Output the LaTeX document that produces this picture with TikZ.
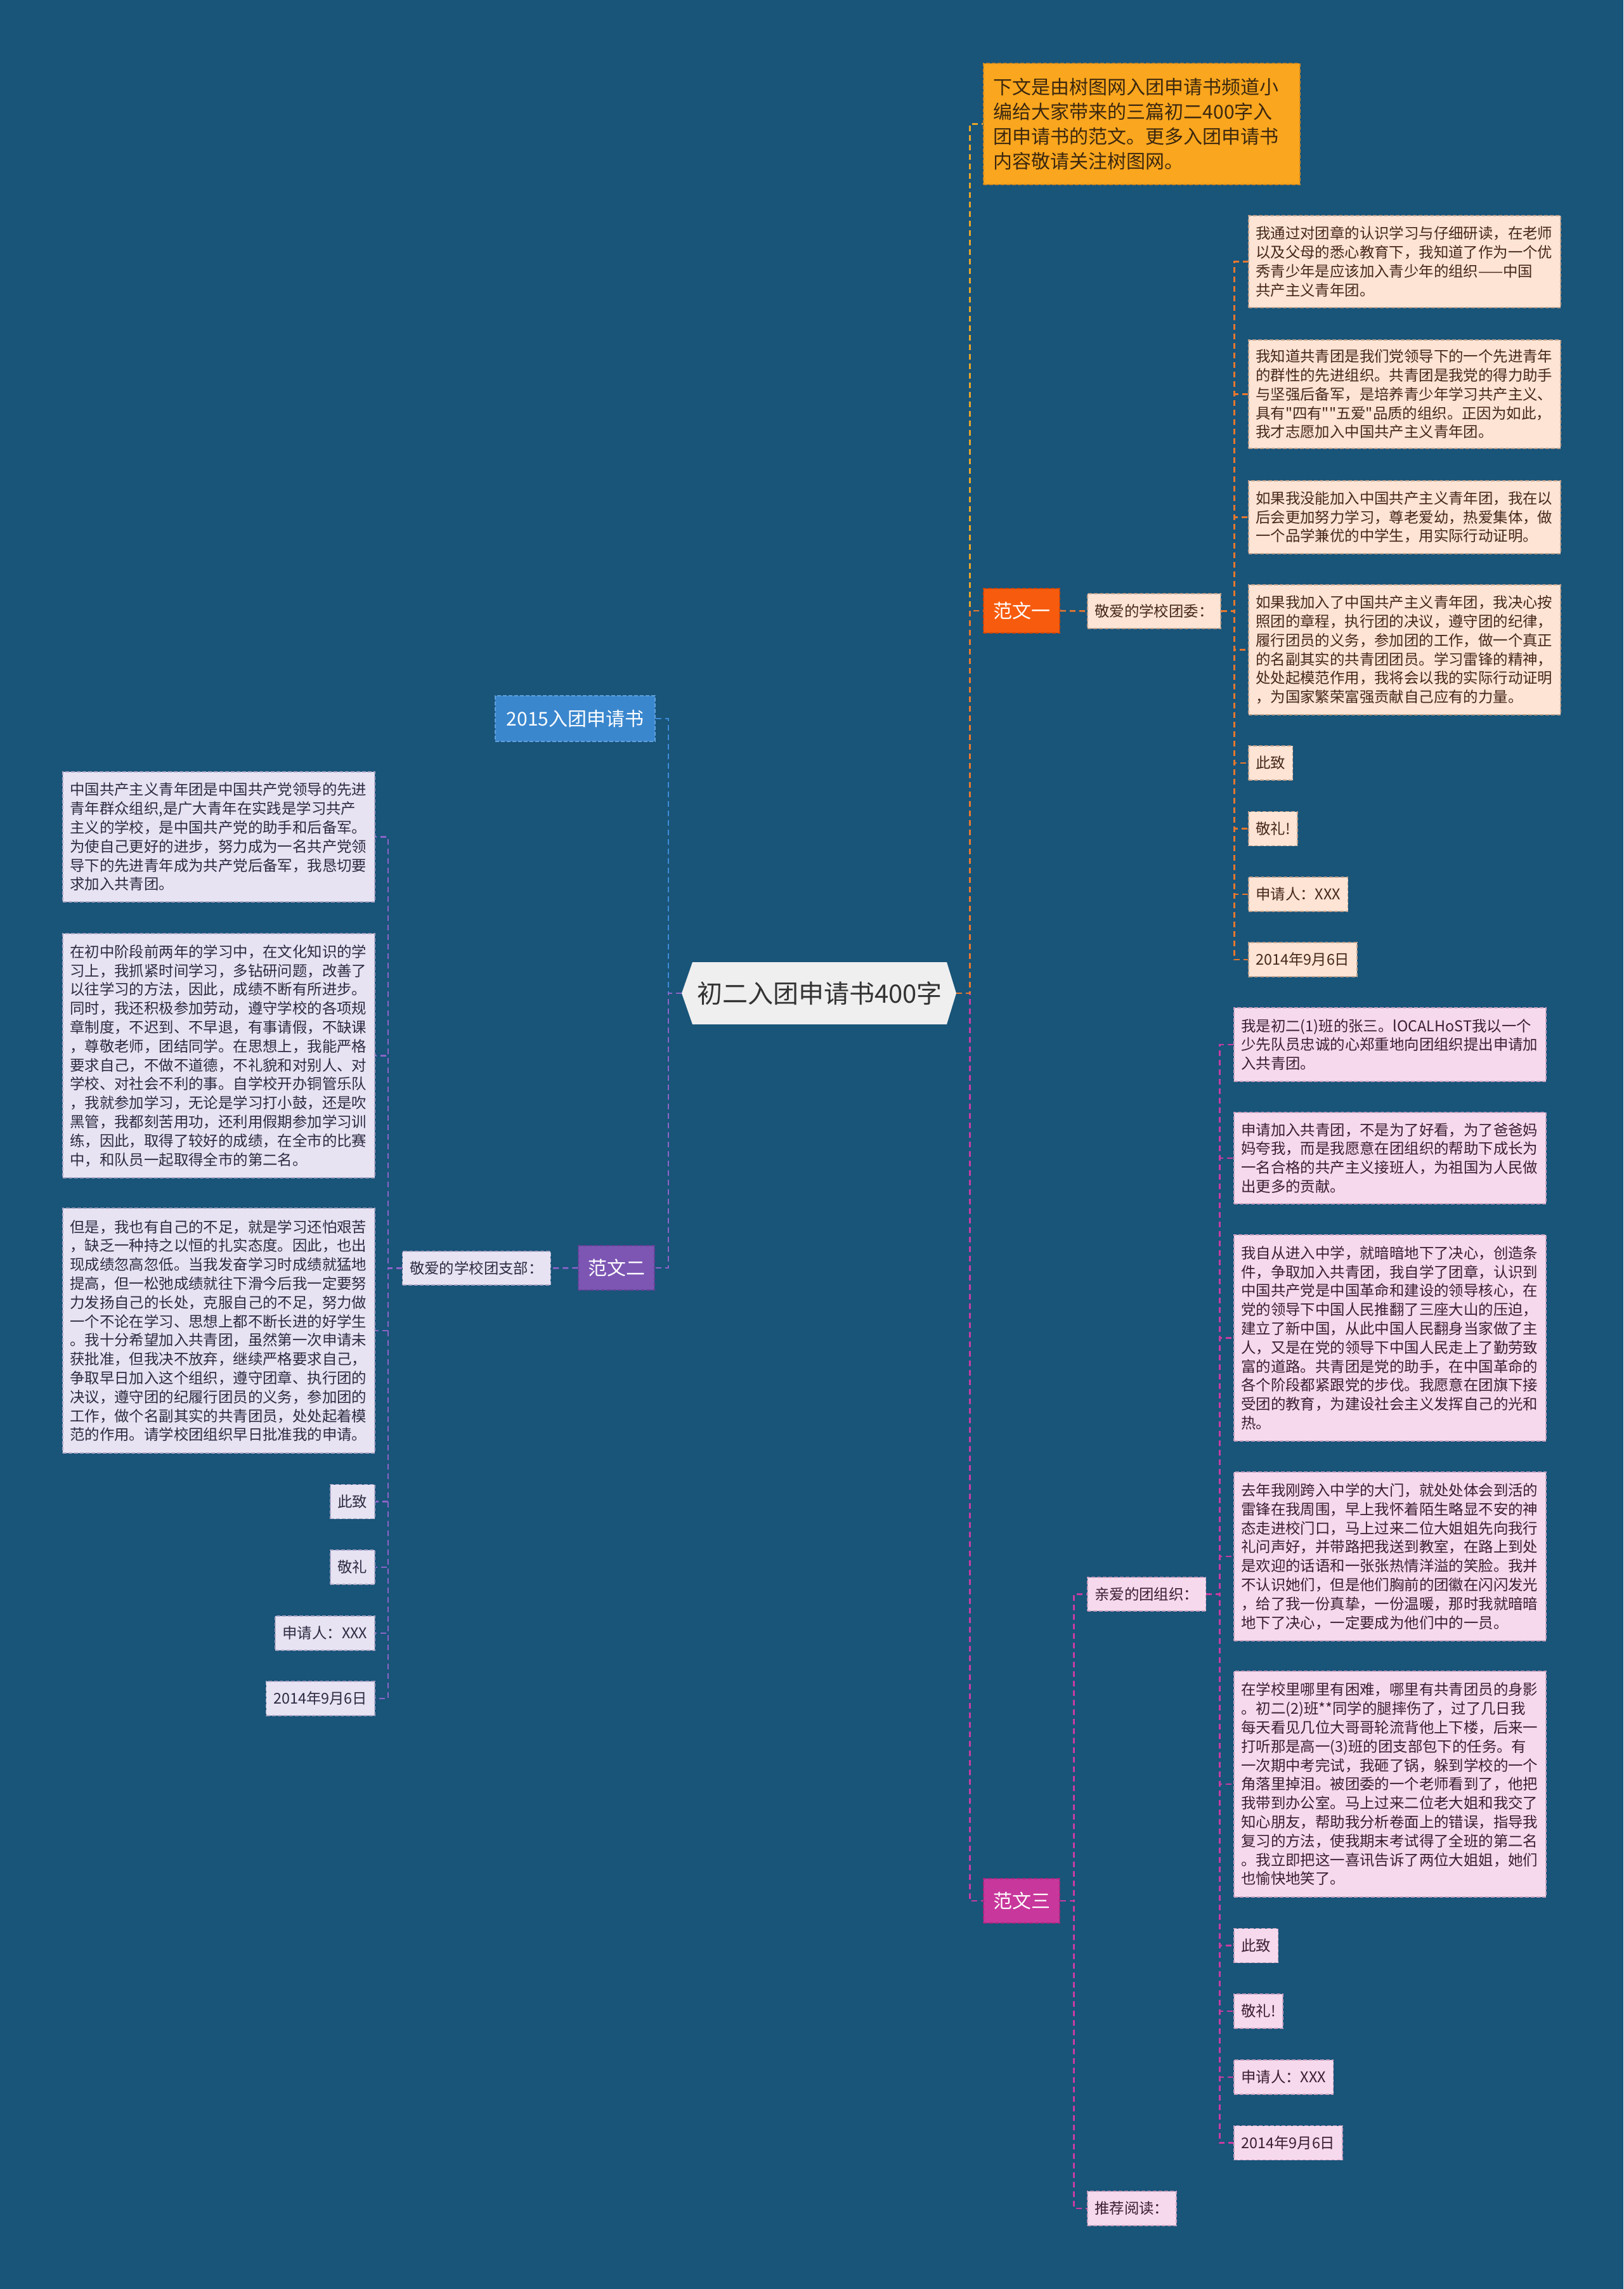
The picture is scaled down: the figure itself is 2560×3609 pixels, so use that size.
\documentclass[tikz,border=0pt]{standalone}
\usepackage{fontspec}
\newfontfamily\cjk{Noto Sans CJK SC}
\definecolor{bg}{RGB}{25,84,121}
\definecolor{rootF}{RGB}{239,239,239}
\definecolor{rootT}{RGB}{51,51,51}
\definecolor{introF}{RGB}{250,166,30}
\definecolor{introD}{RGB}{205,135,35}
\definecolor{introT}{RGB}{60,40,15}
\definecolor{fwoneF}{RGB}{247,92,14}
\definecolor{fwoneD}{RGB}{205,70,10}
\definecolor{fwtwoF}{RGB}{125,86,180}
\definecolor{fwtwoD}{RGB}{100,65,150}
\definecolor{fwthreeF}{RGB}{200,55,155}
\definecolor{fwthreeD}{RGB}{165,40,125}
\definecolor{yearF}{RGB}{58,135,206}
\definecolor{yearD}{RGB}{95,160,220}
\definecolor{peachF}{RGB}{253,228,212}
\definecolor{peachD}{RGB}{190,160,140}
\definecolor{peachT}{RGB}{70,40,25}
\definecolor{lavF}{RGB}{231,227,243}
\definecolor{lavD}{RGB}{170,165,195}
\definecolor{lavT}{RGB}{45,43,65}
\definecolor{pinkF}{RGB}{246,217,237}
\definecolor{pinkD}{RGB}{200,160,190}
\definecolor{pinkT}{RGB}{60,30,50}
\definecolor{cGold}{RGB}{230,165,40}
\definecolor{cOrange}{RGB}{232,120,45}
\definecolor{cBlue}{RGB}{60,140,215}
\definecolor{cPurp}{RGB}{140,100,200}
\definecolor{cMag}{RGB}{200,60,160}
\tikzset{
  every node/.style={font=\cjk},
  conn/.style={line width=2.6pt, dash pattern=on 9pt off 6pt},
  leaf/.style={draw, line width=1.5pt, dash pattern=on 6pt off 3pt, inner xsep=11.5pt, inner ysep=4pt, font=\cjk\fontsize{23.4pt}{29.8pt}\selectfont},
  para/.style={text width=469pt, align=left},
  peach/.style={leaf, fill=peachF, draw=peachD, text=peachT},
  lav/.style={leaf, fill=lavF, draw=lavD, text=lavT},
  pinkbox/.style={leaf, fill=pinkF, draw=pinkD, text=pinkT},
  tiny/.style={minimum height=54pt},
  branch/.style={draw, line width=1.5pt, dash pattern=on 6pt off 3pt, text=white, font=\cjk\fontsize{30pt}{36pt}\selectfont, inner sep=0pt, minimum height=70pt},
  introbox/.style={draw=introD, fill=introF, text=introT, line width=1.5pt, dash pattern=on 6pt off 3pt, text width=467pt, inner xsep=16pt, inner ysep=4pt, align=left, font=\cjk\fontsize{30pt}{39pt}\selectfont}
}
\begin{document}
\begin{tikzpicture}[x=1pt,y=-1pt]
\fill[bg] (0,0) rectangle (2560,3609);
\useasboundingbox (0,0) rectangle (2560,3609);

% root
\fill[rootF] (1092,1517) -- (1493,1517) -- (1508,1566) -- (1493,1615) -- (1092,1615) -- (1075,1566) -- cycle;
\node[minimum width=401pt, minimum height=98pt, inner sep=0pt, text=rootT, font=\cjk\fontsize{40pt}{48pt}\selectfont] (root) at (1292.5,1566) {初二入团申请书400字};

% intro
\node[introbox, anchor=west, minimum height=191pt] (intro) at (1550,195.5) {下文是由树图网入团申请书频道小\\编给大家带来的三篇初二400字入\\团申请书的范文。更多入团申请书\\内容敬请关注树图网。};

% branches
\node[branch, fill=fwoneF, draw=fwoneD, minimum width=120pt] (fw1) at (1611,963) {范文一};
\node[branch, fill=fwthreeF, draw=fwthreeD, minimum width=120pt] (fw3) at (1611,2997) {范文三};
\node[branch, fill=fwtwoF, draw=fwtwoD, minimum width=120pt] (fw2) at (972,1999) {范文二};
\node[branch, fill=yearF, draw=yearD, minimum width=252pt, minimum height=72pt] (y15) at (907,1133) {2015入团申请书};

% 范文一
\node[peach, anchor=west, minimum height=55pt] (jw) at (1714,963.5) {敬爱的学校团委：};
\node[peach, para, anchor=west, minimum height=145pt] (a1) at (1968,412.5) {我通过对团章的认识学习与仔细研读，在老师\\以及父母的悉心教育下，我知道了作为一个优\\秀青少年是应该加入青少年的组织——中国\\共产主义青年团。};
\node[peach, para, anchor=west, minimum height=171pt] (a2) at (1968,621.5) {我知道共青团是我们党领导下的一个先进青年\\的群性的先进组织。共青团是我党的得力助手\\与坚强后备军，是培养青少年学习共产主义、\\具有"四有""五爱"品质的组织。正因为如此，\\我才志愿加入中国共产主义青年团。};
\node[peach, para, anchor=west, minimum height=115pt] (a3) at (1968,815.5) {如果我没能加入中国共产主义青年团，我在以\\后会更加努力学习，尊老爱幼，热爱集体，做\\一个品学兼优的中学生，用实际行动证明。};
\node[peach, para, anchor=west, minimum height=205pt] (a4) at (1968,1024.5) {如果我加入了中国共产主义青年团，我决心按\\照团的章程，执行团的决议，遵守团的纪律，\\履行团员的义务，参加团的工作，做一个真正\\的名副其实的共青团团员。学习雷锋的精神，\\处处起模范作用，我将会以我的实际行动证明\\，为国家繁荣富强贡献自己应有的力量。};
\node[peach, tiny, anchor=west] (a5) at (1968,1203) {此致};
\node[peach, tiny, anchor=west] (a6) at (1968,1306.5) {敬礼!};
\node[peach, tiny, anchor=west] (a7) at (1968,1410) {申请人：XXX};
\node[peach, tiny, anchor=west] (a8) at (1968,1513) {2014年9月6日};

% 范文二
\node[lav, anchor=east, minimum height=53pt] (jz) at (869,1999.5) {敬爱的学校团支部：};
\node[lav, para, anchor=east, minimum height=205pt] (b1) at (591.5,1319.5) {中国共产主义青年团是中国共产党领导的先进\\青年群众组织,是广大青年在实践是学习共产\\主义的学校，是中国共产党的助手和后备军。\\为使自己更好的进步，努力成为一名共产党领\\导下的先进青年成为共产党后备军，我恳切要\\求加入共青团。};
\node[lav, para, anchor=east, minimum height=385pt] (b2) at (591.5,1664.5) {在初中阶段前两年的学习中，在文化知识的学\\习上，我抓紧时间学习，多钻研问题，改善了\\以往学习的方法，因此，成绩不断有所进步。\\同时，我还积极参加劳动，遵守学校的各项规\\章制度，不迟到、不早退，有事请假，不缺课\\，尊敬老师，团结同学。在思想上，我能严格\\要求自己，不做不道德，不礼貌和对别人、对\\学校、对社会不利的事。自学校开办铜管乐队\\，我就参加学习，无论是学习打小鼓，还是吹\\黑管，我都刻苦用功，还利用假期参加学习训\\练，因此，取得了较好的成绩，在全市的比赛\\中，和队员一起取得全市的第二名。};
\node[lav, para, anchor=east, minimum height=386pt] (b3) at (591.5,2098) {但是，我也有自己的不足，就是学习还怕艰苦\\，缺乏一种持之以恒的扎实态度。因此，也出\\现成绩忽高忽低。当我发奋学习时成绩就猛地\\提高，但一松弛成绩就往下滑今后我一定要努\\力发扬自己的长处，克服自己的不足，努力做\\一个不论在学习、思想上都不断长进的好学生\\。我十分希望加入共青团，虽然第一次申请未\\获批准，但我决不放弃，继续严格要求自己，\\争取早日加入这个组织，遵守团章、执行团的\\决议，遵守团的纪履行团员的义务，参加团的\\工作，做个名副其实的共青团员，处处起着模\\范的作用。请学校团组织早日批准我的申请。};
\node[lav, tiny, anchor=east] (b4) at (591.5,2367.5) {此致};
\node[lav, tiny, anchor=east] (b5) at (591.5,2471) {敬礼};
\node[lav, tiny, anchor=east] (b6) at (591.5,2575) {申请人：XXX};
\node[lav, tiny, anchor=east] (b7) at (591.5,2678) {2014年9月6日};

% 范文三
\node[pinkbox, anchor=west, minimum height=53pt] (qa) at (1714,2513.5) {亲爱的团组织：};
\node[pinkbox, tiny, anchor=west] (tj) at (1714,3482) {推荐阅读：};
\node[pinkbox, para, anchor=west, minimum height=116pt] (c1) at (1945,1647) {我是初二(1)班的张三。lOCALHoST我以一个\\少先队员忠诚的心郑重地向团组织提出申请加\\入共青团。};
\node[pinkbox, para, anchor=west, minimum height=144pt] (c2) at (1945,1826) {申请加入共青团，不是为了好看，为了爸爸妈\\妈夸我，而是我愿意在团组织的帮助下成长为\\一名合格的共产主义接班人，为祖国为人民做\\出更多的贡献。};
\node[pinkbox, para, anchor=west, minimum height=325pt] (c3) at (1945,2109.5) {我自从进入中学，就暗暗地下了决心，创造条\\件，争取加入共青团，我自学了团章，认识到\\中国共产党是中国革命和建设的领导核心，在\\党的领导下中国人民推翻了三座大山的压迫，\\建立了新中国，从此中国人民翻身当家做了主\\人，又是在党的领导下中国人民走上了勤劳致\\富的道路。共青团是党的助手，在中国革命的\\各个阶段都紧跟党的步伐。我愿意在团旗下接\\受团的教育，为建设社会主义发挥自己的光和\\热。};
\node[pinkbox, para, anchor=west, minimum height=266pt] (c4) at (1945,2454) {去年我刚跨入中学的大门，就处处体会到活的\\雷锋在我周围，早上我怀着陌生略显不安的神\\态走进校门口，马上过来二位大姐姐先向我行\\礼问声好，并带路把我送到教室，在路上到处\\是欢迎的话语和一张张热情洋溢的笑脸。我并\\不认识她们，但是他们胸前的团徽在闪闪发光\\，给了我一份真挚，一份温暖，那时我就暗暗\\地下了决心，一定要成为他们中的一员。};
\node[pinkbox, para, anchor=west, minimum height=356pt] (c5) at (1945,2813) {在学校里哪里有困难，哪里有共青团员的身影\\。初二(2)班**同学的腿摔伤了，过了几日我\\每天看见几位大哥哥轮流背他上下楼，后来一\\打听那是高一(3)班的团支部包下的任务。有\\一次期中考完试，我砸了锅，躲到学校的一个\\角落里掉泪。被团委的一个老师看到了，他把\\我带到办公室。马上过来二位老大姐和我交了\\知心朋友，帮助我分析卷面上的错误，指导我\\复习的方法，使我期末考试得了全班的第二名\\。我立即把这一喜讯告诉了两位大姐姐，她们\\也愉快地笑了。};
\node[pinkbox, tiny, anchor=west] (c6) at (1945,3067.5) {此致};
\node[pinkbox, tiny, anchor=west] (c7) at (1945,3171) {敬礼!};
\node[pinkbox, tiny, anchor=west] (c8) at (1945,3275) {申请人：XXX};
\node[pinkbox, tiny, anchor=west] (c9) at (1945,3378.5) {2014年9月6日};

% connectors from root
\draw[conn, cGold] ([xshift=15pt]root.east) -- ++(21,0) |- (intro.west);
\draw[conn, cMag] ([xshift=15pt]root.east) -- ++(21,0) |- (fw3.west);
\draw[conn, cOrange] ([xshift=15pt]root.east) -- ++(21,0) |- (fw1.west);
\draw[conn, cBlue] ([xshift=-17pt]root.west) -- ++(-21,0) |- (y15.east);
\draw[conn, cPurp] ([xshift=-17pt]root.west) -- ++(-21,0) |- (fw2.east);

% 范文一
\draw[conn, cOrange] (fw1.east) -- (jw.west);
\foreach \n in {a1,a2,a3,a4,a5,a6,a7,a8}
  \draw[conn, cOrange] (jw.east) -- ++(21,0) |- (\n.west);

% 范文二
\draw[conn, cPurp] (fw2.west) -- (jz.east);
\foreach \n in {b1,b2,b3,b4,b5,b6,b7}
  \draw[conn, cPurp] (jz.west) -- ++(-22,0) |- (\n.east);

% 范文三
\draw[conn, cMag] (fw3.east) -- ++(22,0) |- (qa.west);
\draw[conn, cMag] (fw3.east) -- ++(22,0) |- (tj.west);
\foreach \n in {c1,c2,c3,c4,c5,c6,c7,c8,c9}
  \draw[conn, cMag] (qa.east) -- ++(21,0) |- (\n.west);
\end{tikzpicture}
\end{document}
